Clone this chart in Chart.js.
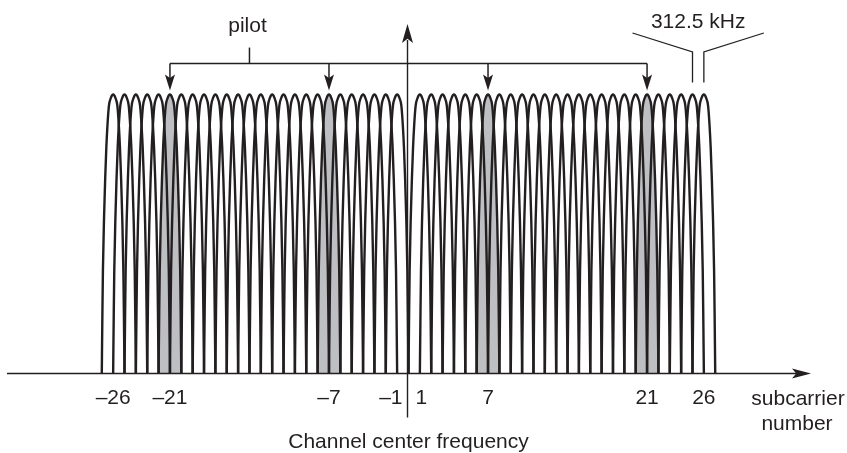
<!DOCTYPE html>
<html>
<head>
<meta charset="utf-8">
<script src="https://cdn.jsdelivr.net/npm/chart.js@4.4.1/dist/chart.umd.min.js"></script>
<style>
    html, body { margin: 0; padding: 0; background: #fff; }
    #wrap { width: 847px; height: 453px; }
</style>
</head>
<body>
<div id="wrap"><canvas id="ofdmChart" width="847" height="453"></canvas></div>
<script>
// subcarrier numbers (no DC carrier)
const subcarriers = [
    -26, -25, -24, -23, -22, -21, -20, -19, -18, -17, -16, -15, -14,
    -13, -12, -11, -10, -9, -8, -7, -6, -5, -4, -3, -2, -1,
    1, 2, 3, 4, 5, 6, 7, 8, 9, 10, 11, 12, 13,
    14, 15, 16, 17, 18, 19, 20, 21, 22, 23, 24, 25, 26
];
const pilotCarriers = [-21, -7, 7, 21];

// tick labels under the axis
const tickValues = [-26, -21, -7, -1, 1, 7, 21, 26];
const tickLabels = ['–26', '–21', '–7', '–1', '1', '7', '21', '26'];

// shape of one subcarrier lobe (offset from centre, relative height)
const lobeOffsets = [-1, -0.95, -0.9, -0.8, -0.7, -0.6, -0.5, -0.37, -0.2, 0, 0.2, 0.37, 0.5, 0.6, 0.7, 0.8, 0.9, 0.95, 1];
const lobeHeights = [0, 0.2, 0.37, 0.56, 0.7, 0.81, 0.89, 0.96, 0.988, 1, 0.988, 0.96, 0.89, 0.81, 0.7, 0.56, 0.37, 0.2, 0];

const INK = '#231f20';
const PILOT_GRAY = '#bdbfc2';
const FONT = '21px "Liberation Sans", Arial, sans-serif';

function buildDatasets() {
    return subcarriers.map((k) => {
        const isPilot = pilotCarriers.includes(k);
        return {
            label: 'sc ' + k,
            data: lobeOffsets.map((d, i) => ({ x: k + d, y: lobeHeights[i] })),
            borderColor: INK,
            borderWidth: 2.4,
            pointRadius: 0,
            cubicInterpolationMode: 'monotone',
            fill: isPilot ? 'origin' : false,
            backgroundColor: PILOT_GRAY
        };
    });
}

// arrow head pointing along angle, tip at (x, y)
function arrowHead(ctx, x, y, angle, len, half) {
    ctx.save();
    ctx.translate(x, y);
    ctx.rotate(angle);
    ctx.beginPath();
    ctx.moveTo(0, 0);
    ctx.lineTo(-len, -half);
    ctx.lineTo(-len * 0.78, 0);
    ctx.lineTo(-len, half);
    ctx.closePath();
    ctx.fill();
    ctx.restore();
}

function line(ctx, pts, width) {
    ctx.lineWidth = width;
    ctx.beginPath();
    ctx.moveTo(pts[0][0], pts[0][1]);
    for (let i = 1; i < pts.length; i++) ctx.lineTo(pts[i][0], pts[i][1]);
    ctx.stroke();
}

const overlayPlugin = {
    id: 'overlay',
    afterDraw(chart) {
        const ctx = chart.ctx;
        const xs = chart.scales.x;
        const ys = chart.scales.y;
        const baseY = ys.getPixelForValue(0);
        const peakY = ys.getPixelForValue(1);
        const cx = xs.getPixelForValue(0);

        ctx.save();
        ctx.strokeStyle = INK;
        ctx.fillStyle = INK;
        ctx.lineCap = 'butt';

        // frequency axis
        line(ctx, [[7, baseY], [796, baseY]], 1.6);
        arrowHead(ctx, 811, baseY, 0, 19, 5);

        // channel centre line
        line(ctx, [[cx - 1, baseY + 44], [cx - 1, 40]], 1.4);
        arrowHead(ctx, cx - 1, 24, -Math.PI / 2, 19, 5.5);

        // pilot bracket
        const brY = peakY - 31;
        line(ctx, [[xs.getPixelForValue(-21), brY], [xs.getPixelForValue(21), brY]], 1.5);
        const stemX = xs.getPixelForValue(-14);
        line(ctx, [[stemX, brY - 16], [stemX, brY]], 1.5);
        pilotCarriers.forEach((p) => {
            const px = xs.getPixelForValue(p);
            line(ctx, [[px, brY], [px, peakY - 12]], 1.5);
            arrowHead(ctx, px, peakY - 4, Math.PI / 2, 16, 5);
        });

        // 312.5 kHz spacing marker
        const x25 = xs.getPixelForValue(25);
        const x26 = xs.getPixelForValue(26);
        line(ctx, [[x25 - 60, 33], [x25, 52], [x25, peakY - 12]], 1.3);
        line(ctx, [[x26 + 60, 33], [x26, 52], [x26, peakY - 12]], 1.3);

        // texts
        ctx.font = FONT;
        ctx.textBaseline = 'alphabetic';
        ctx.textAlign = 'center';
        ctx.fillText('pilot', stemX - 2, 32);
        ctx.fillText('312.5 kHz', (x25 + x26) / 2, 28);

        tickValues.forEach((v, i) => {
            const tx = xs.getPixelForValue(v);
            if (v === -1) {
                ctx.textAlign = 'right';
                ctx.fillText(tickLabels[i], cx - 6, baseY + 30);
            } else if (v === 1) {
                ctx.textAlign = 'left';
                ctx.fillText(tickLabels[i], cx + 7, baseY + 30);
            } else {
                ctx.textAlign = 'center';
                ctx.fillText(tickLabels[i], tx, baseY + 30);
            }
        });

        ctx.textAlign = 'center';
        ctx.fillText('subcarrier', 798, baseY + 31);
        ctx.fillText('number', 797, baseY + 56);
        ctx.fillText('Channel center frequency', cx, baseY + 74);
        ctx.restore();
    }
};

// pixel layout: subcarrier spacing ~11.36 px, centre at x=408.5, baseline y=373.5, peak height 279 px
const xMin = -35.96;
const xMax = 38.6;
const yMin = -0.285;
const yMax = 1.339;

new Chart(document.getElementById('ofdmChart'), {
    type: 'line',
    data: { datasets: buildDatasets() },
    options: {
        responsive: false,
        animation: false,
        events: [],
        layout: { padding: 0 },
        scales: {
            x: { type: 'linear', min: xMin, max: xMax, display: false },
            y: { type: 'linear', min: yMin, max: yMax, display: false }
        },
        plugins: {
            legend: { display: false },
            tooltip: { enabled: false },
            filler: { drawTime: 'beforeDatasetsDraw' }
        }
    },
    plugins: [overlayPlugin]
});
</script>
</body>
</html>
